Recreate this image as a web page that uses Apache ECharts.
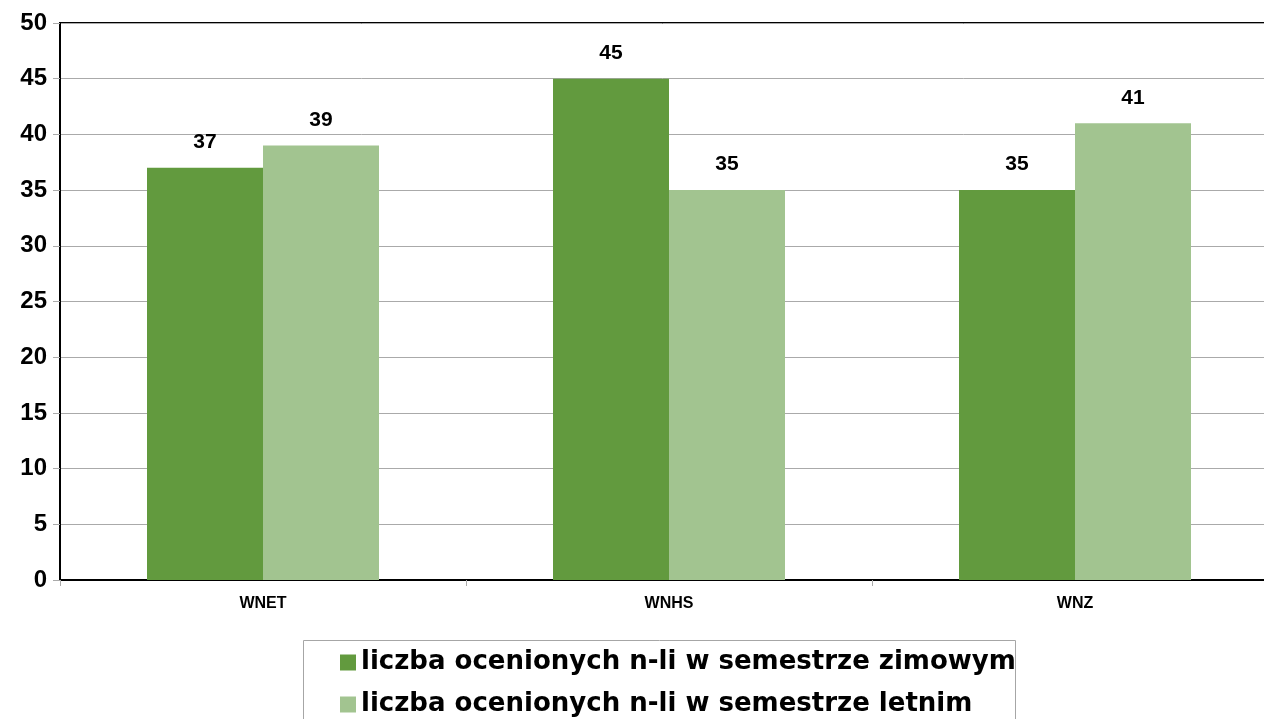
<!DOCTYPE html>
<html><head><meta charset="utf-8">
<script src="https://cdn.jsdelivr.net/npm/echarts@6/dist/echarts.min.js"></script>
<style>html,body{margin:0;padding:0;background:#fff}#c{width:1264px;height:719px}</style>
</head><body><div id="c"></div>
<script>
const categories = ['WNET', 'WNHS', 'WNZ'];
const winter = [37, 45, 35];
const summer = [39, 35, 41];
const seriesNames = ['liczba ocenionych n-li w semestrze zimowym', 'liczba ocenionych n-li w semestrze letnim'];

const chart = echarts.init(document.getElementById('c'), null, {renderer: 'canvas'});
const labelStyle = {show: true, position: 'top', distance: 15, fontFamily: 'Arial, Liberation Sans', fontWeight: 'bold', fontSize: 21, color: '#000'};
chart.setOption({
  animation: false,
  grid: {left: 60, width: 1218, top: 23, height: 557, outerBoundsMode: 'none', containLabel: false, show: true, borderColor: '#000', borderWidth: 2, backgroundColor: 'transparent'},
  graphic: [{
    type: 'rect', left: 303, top: 640, silent: true,
    shape: {width: 712, height: 100},
    style: {fill: 'transparent', stroke: '#a6a6a6', lineWidth: 1}
  }],
  legend: {
    orient: 'vertical', left: 340, top: 648,
    padding: 0, itemWidth: 16, itemHeight: 16, itemGap: 13,
    icon: 'rect',
    textStyle: {fontFamily: 'DejaVu Sans', fontWeight: 'bold', fontSize: 26, lineHeight: 29, color: '#000'},
    data: seriesNames
  },
  xAxis: {
    type: 'category', data: categories,
    axisLine: {lineStyle: {color: '#000', width: 2}},
    axisTick: {show: true, length: 6, lineStyle: {color: '#aaa'}},
    axisLabel: {fontFamily: 'Arial, Liberation Sans', fontWeight: 'bold', fontSize: 16, color: '#000', margin: 16}
  },
  yAxis: {
    type: 'value', min: 0, max: 50, interval: 5,
    axisLine: {show: true, lineStyle: {color: '#000', width: 2}},
    axisTick: {show: true, length: 7, lineStyle: {color: '#aaa'}},
    splitLine: {lineStyle: {color: '#aaa', width: 1}},
    axisLabel: {fontFamily: 'Arial, Liberation Sans', fontWeight: 'bold', fontSize: 24, color: '#000', margin: 13}
  },
  series: [
    {name: seriesNames[0], type: 'bar', data: winter, barWidth: 116, barGap: '0%', itemStyle: {color: '#629A3E'}, label: labelStyle},
    {name: seriesNames[1], type: 'bar', data: summer, barWidth: 116, barGap: '0%', itemStyle: {color: '#A2C490'}, label: labelStyle}
  ]
});
</script></body></html>
